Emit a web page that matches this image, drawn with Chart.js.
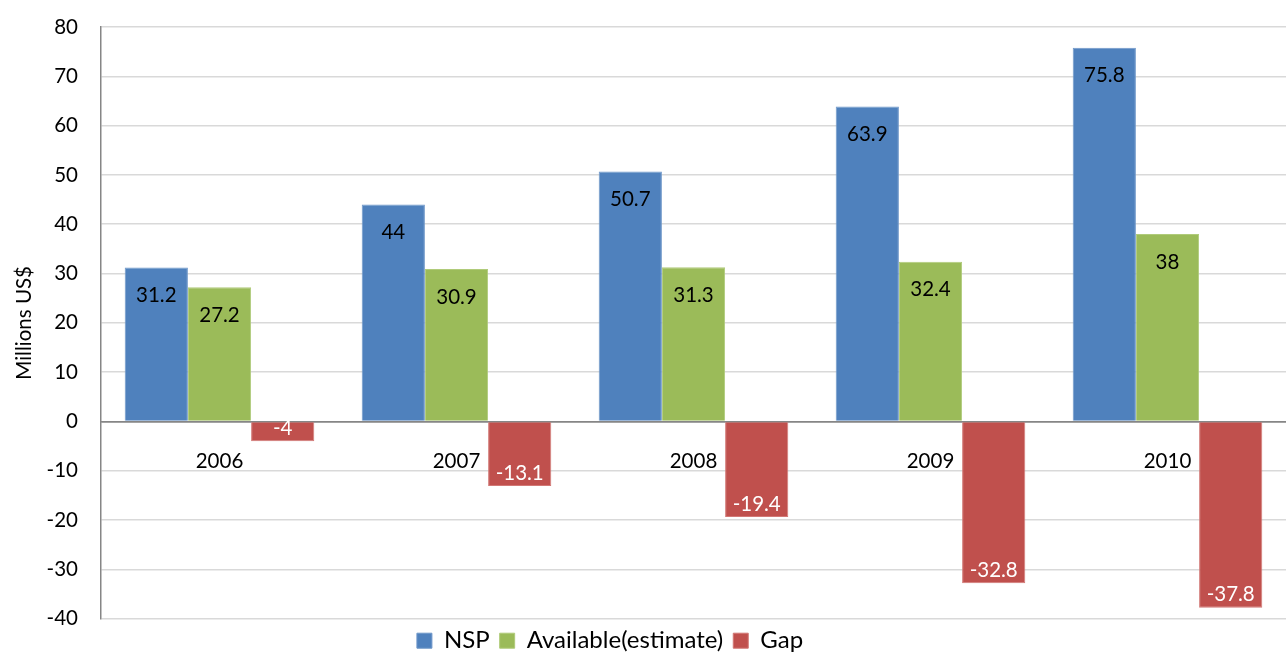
<!DOCTYPE html>
<html>
<head>
<meta charset="utf-8">
<script src="https://cdn.jsdelivr.net/npm/chart.js@4"></script>
<style>
html,body{margin:0;padding:0;background:#fff;overflow:hidden;}
#wrap{width:1286px;height:654px;}
</style>
</head>
<body>
<div id="wrap"><canvas id="c" width="1286" height="654"></canvas></div>
<script>
const categories = ['2006', '2007', '2008', '2009', '2010'];
const nsp = [31.2, 44, 50.7, 63.9, 75.8];
const available = [27.2, 30.9, 31.3, 32.4, 38];
const gap = [-4, -13.1, -19.4, -32.8, -37.8];
const seriesNames = ['NSP', 'Available(estimate)', 'Gap'];
const yTicks = [-40, -30, -20, -10, 0, 10, 20, 30, 40, 50, 60, 70, 80];

const FONT = 'Lato, "Open Sans", sans-serif';
const FS = 20.5;
const LEFT_SHIFT = -66;

const labelPlugin = {
  id: 'barLabels',
  afterDatasetsDraw(chart) {
    const ctx = chart.ctx;
    ctx.save();
    ctx.font = FS + 'px ' + FONT;
    ctx.textAlign = 'center';
    ctx.textBaseline = 'middle';
    chart.data.datasets.forEach((ds, i) => {
      const meta = chart.getDatasetMeta(i);
      meta.data.forEach((el, j) => {
        const v = ds.data[j];
        if (v >= 0) {
          ctx.fillStyle = '#000';
          ctx.fillText(String(v), el.x, el.y + 28);
        } else {
          ctx.fillStyle = '#fff';
          ctx.fillText(String(v), el.x, el.y - 13);
        }
      });
    });
    ctx.restore();
  }
};

new Chart(document.getElementById('c'), {
  type: 'bar',
  data: {
    labels: categories,
    datasets: [
      { label: seriesNames[0], data: nsp, backgroundColor: '#4F81BD', borderColor: '#6f97c9', borderWidth: 1 },
      { label: seriesNames[1], data: available, backgroundColor: '#9BBB59', borderColor: '#b0cb7a', borderWidth: 1 },
      { label: seriesNames[2], data: gap, backgroundColor: '#C0504D', borderColor: '#d27875', borderWidth: 1 }
    ]
  },
  options: {
    responsive: false,
    animation: false,
    categoryPercentage: 0.8,
    barPercentage: 1.0,
    layout: { padding: { top: 27, right: 0, left: LEFT_SHIFT, bottom: -11 } },
    plugins: {
      legend: {
        position: 'bottom',
        labels: {
          font: { family: FONT, size: 24 },
          color: '#000',
          boxWidth: 15,
          boxHeight: 15,
          padding: 10
        }
      },
      tooltip: { enabled: false },
      title: { display: false }
    },
    scales: {
      x: {
        position: { y: 0 },
        afterFit(scale) { scale.height = 0; },
        grid: { display: false, drawTicks: false },
        border: { display: true, color: '#868686', width: 1.5 },
        ticks: { font: { family: FONT, size: FS }, color: '#000', padding: 28 }
      },
      y: {
        min: -40,
        max: 80,
        afterBuildTicks(scale) { scale.ticks = yTicks.map(v => ({ value: v })); },
        afterFit(scale) { scale.width = 101 - LEFT_SHIFT; scale.paddingTop = 0; },
        grid: {
          color: ctx => (ctx.tick && ctx.tick.value === 0) ? '#868686' : '#d9d9d9',
          lineWidth: 1.5,
          drawTicks: false
        },
        border: { display: true, color: '#868686', width: 1.5 },
        ticks: { font: { family: FONT, size: FS }, color: '#000', padding: 23 },
        title: { display: true, text: 'Millions US$', font: { family: FONT, size: FS }, color: '#000', padding: { top: 24 - 12.3 - LEFT_SHIFT, bottom: 0 } }
      }
    }
  },
  plugins: [labelPlugin]
});
</script>
</body>
</html>
